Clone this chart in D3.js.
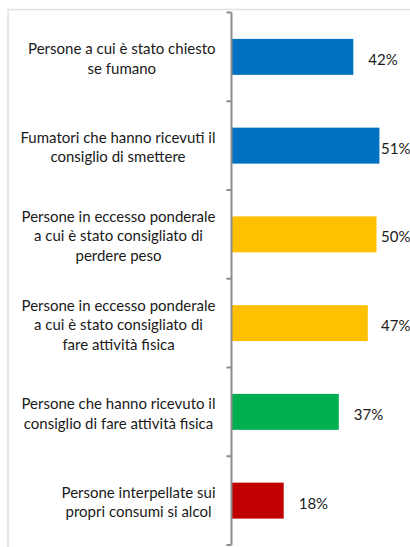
<!DOCTYPE html>
<html>
<head>
<meta charset="utf-8">
<script src="https://cdn.jsdelivr.net/npm/d3@7"></script>
<style>
  body { margin: 0; background: #fff; }
  svg { display: block; }
</style>
</head>
<body>
<div id="grafico"></div>
<script>
// categorie (una riga per elemento, come nel grafico originale)
var categorie = [
    ["Persone a cui è stato chiesto", "se fumano"],
    ["Fumatori che hanno ricevuti il", "consiglio di smettere"],
    ["Persone in eccesso ponderale", "a cui è stato consigliato di", "perdere peso"],
    ["Persone in eccesso ponderale", "a cui è stato consigliato di", "fare attività fisica"],
    ["Persone che hanno ricevuto il", "consiglio di fare attività fisica"],
    ["Persone interpellate sui", "propri consumi si alcol"]
];
var valori = [42, 51, 50, 47, 37, 18];
var colori = ["#0070c0", "#0070c0", "#ffc000", "#ffc000", "#00b050", "#c00000"];

var width = 410, height = 547;
var fontFam = "Lato, 'Open Sans', sans-serif";

var svg = d3.select("#grafico").append("svg")
    .attr("width", width)
    .attr("height", height);

// cornice grigia chiara
svg.append("rect")
    .attr("x", 8).attr("y", 9.5)
    .attr("width", 420).attr("height", 560)
    .attr("fill", "none")
    .attr("stroke", "#e2e2dc")
    .attr("stroke-width", 1.5);

// scale
var y = d3.scaleBand()
    .domain(d3.range(categorie.length))
    .range([12.5, 545])
    .paddingInner(0.595)
    .paddingOuter(0.2975);

var yPasso = d3.scaleBand().domain(d3.range(categorie.length)).range([12.5, 545]);

var x = d3.scaleLinear()
    .domain([0, 100])
    .range([231.5, 231.5 + 290]);

// barre
svg.selectAll(".barra")
    .data(valori)
    .enter().append("rect")
    .attr("class", "barra")
    .attr("x", x(0))
    .attr("y", function (d, i) { return y(i); })
    .attr("width", function (d) { return x(d) - x(0); })
    .attr("height", y.bandwidth())
    .attr("fill", function (d, i) { return colori[i]; });

// asse verticale con tacche
var asse = svg.append("g")
    .attr("transform", "translate(" + x(0) + ",0)")
    .call(d3.axisLeft(yPasso).tickSize(0).tickFormat(""));
asse.select(".domain").remove();
asse.append("line")
    .attr("x1", 0).attr("x2", 0)
    .attr("y1", 12.5).attr("y2", 545)
    .attr("stroke", "#8c8c8c").attr("stroke-width", 2);
var bordi = yPasso.domain().map(function (i) { return yPasso(i); }).concat([545]);
asse.selectAll(".tacca")
    .data(bordi)
    .enter().append("line")
    .attr("class", "tacca")
    .attr("x1", -5).attr("x2", 0)
    .attr("y1", function (d) { return d; })
    .attr("y2", function (d) { return d; })
    .attr("stroke", "#8c8c8c").attr("stroke-width", 2);

// etichette delle categorie
var interlinea = 19.5;
categorie.forEach(function (righe, i) {
    var g = svg.append("g");
    var centro = yPasso(i) + yPasso.bandwidth() / 2 + 1;
    var t = g.selectAll("text")
        .data(righe)
        .enter().append("text")
        .attr("y", function (d, j) { return centro + (j - (righe.length - 1) / 2) * interlinea; })
        .attr("dominant-baseline", "central")
        .attr("text-anchor", "middle")
        .style("font-family", fontFam)
        .style("font-size", "15px")
        .style("fill", "#1a1a1a")
        .text(function (d) { return d; });
    var maxW = 0;
    t.each(function () { maxW = Math.max(maxW, this.getComputedTextLength()); });
    t.attr("x", 215.5 - maxW / 2);
});

// etichette dei valori
svg.selectAll(".valore")
    .data(valori)
    .enter().append("text")
    .attr("class", "valore")
    .attr("x", function (d) { return Math.min(x(d) + 15, 381); })
    .attr("y", function (d, i) { return yPasso(i) + yPasso.bandwidth() / 2 + 2; })
    .attr("dominant-baseline", "central")
    .style("font-family", fontFam)
    .style("font-size", "15px")
    .style("fill", "#1a1a1a")
    .text(function (d) { return d + "%"; });
</script>
</body>
</html>
